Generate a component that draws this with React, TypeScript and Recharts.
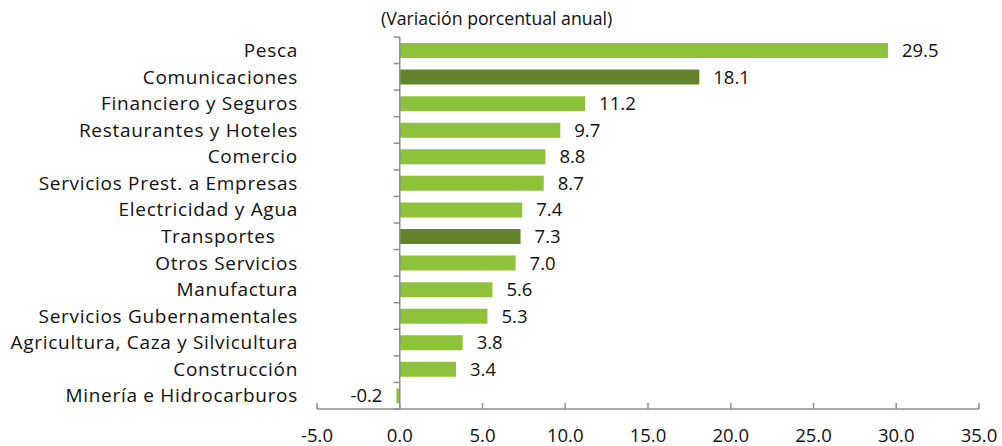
import { BarChart, Bar, XAxis, YAxis, ReferenceLine, LabelList, Cell } from 'recharts';

const CATEGORIES = [
  'Pesca',
  'Comunicaciones',
  'Financiero y Seguros',
  'Restaurantes y Hoteles',
  'Comercio',
  'Servicios Prest. a Empresas',
  'Electricidad y Agua',
  'Transportes\u00a0\u00a0\u00a0\u00a0',
  'Otros Servicios',
  'Manufactura',
  'Servicios Gubernamentales',
  'Agricultura, Caza y Silvicultura',
  'Construcción',
  'Minería e Hidrocarburos',
];
const VALUES = [29.5, 18.1, 11.2, 9.7, 8.8, 8.7, 7.4, 7.3, 7.0, 5.6, 5.3, 3.8, 3.4, -0.2];
const HIGHLIGHTED = ['Comunicaciones', 'Transportes'];
const X_TICKS = [-5, 0, 5, 10, 15, 20, 25, 30, 35];

const LIGHT = '#8dc23a';
const DARK = '#63842a';
const AXIS = '#8e8e8e';
const FONT = '"Open Sans", sans-serif';
const FS = 18.5;

const data = CATEGORIES.map((name, i) => ({ name, value: VALUES[i] }));

const XTick = (props: any) => {
  const { x, y, payload } = props;
  return (
    <g>
      <line x1={x} x2={x} y1={y} y2={y - 6} stroke={AXIS} strokeWidth={1.5} />
      <text x={x} y={y + 33} textAnchor="middle" fontSize={FS} fill="#111" fontFamily={FONT}>
        {Number(payload.value).toFixed(1)}
      </text>
    </g>
  );
};

// zero line with category boundary ticks like the original
const ZeroLine = (props: any) => {
  const { x1, y1, y2 } = props;
  const top = Math.min(y1, y2);
  const bottom = Math.max(y1, y2);
  const step = (bottom - top) / CATEGORIES.length;
  return (
    <g>
      <line x1={x1} x2={x1} y1={top} y2={bottom} stroke={AXIS} strokeWidth={1.5} />
      {Array.from({ length: CATEGORIES.length + 1 }, (_, i) => (
        <line key={i} x1={x1 - 6} x2={x1} y1={top + i * step} y2={top + i * step} stroke={AXIS} strokeWidth={1.5} />
      ))}
    </g>
  );
};

const App = () => {
  return (
    <div style={{ position: 'relative', width: 1002, height: 446, fontFamily: FONT }}>
      <style>{`body{margin:0}`}</style>
      <div style={{ position: 'absolute', left: 381, top: 6, fontSize: 17.7, color: '#111', whiteSpace: 'nowrap' }}>
        (Variación porcentual anual)
      </div>
      <BarChart
        width={1002}
        height={446}
        data={data}
        layout="vertical"
        margin={{ top: 37, right: 23, bottom: 0, left: 0 }}
      >
        <XAxis
          type="number"
          domain={[-5, 35]}
          ticks={X_TICKS}
          height={37}
          stroke={AXIS}
          strokeWidth={1.5}
          tickSize={0}
          tickMargin={0}
          tick={<XTick />}
          interval={0}
        />
        <YAxis
          type="category"
          dataKey="name"
          width={317}
          axisLine={false}
          tickLine={false}
          tickSize={0}
          tickMargin={19}
          interval={0}
          tick={{ fontSize: 19, fill: '#111', fontFamily: FONT, letterSpacing: 0.7 }}
        />
        <Bar dataKey="value" barSize={15} isAnimationActive={false}>
          {data.map((d) => (
            <Cell key={d.name} fill={HIGHLIGHTED.includes(d.name.trim()) ? DARK : LIGHT} />
          ))}
          <LabelList
            dataKey="value"
            position="right"
            offset={14}
            formatter={(v: any) => Number(v).toFixed(1)}
            style={{ fontSize: FS, fill: '#111', fontFamily: FONT }}
          />
        </Bar>
        <ReferenceLine x={0} stroke={AXIS} shape={<ZeroLine />} />
      </BarChart>
    </div>
  );
};

export default App;
